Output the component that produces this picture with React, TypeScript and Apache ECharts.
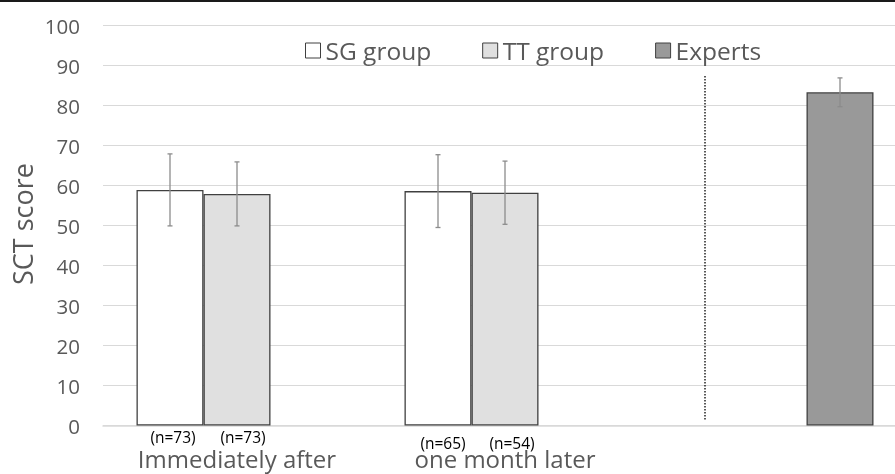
import React, { useEffect, useRef } from "react";
import * as echarts from "echarts";

const categories = ["Immediately after", "one month later", ""];
const seriesNames = ["SG group", "TT group", "Experts"];
const sgMeans = [58.9, 58.6, null];
const ttMeans = [57.9, 58.2, null];
const expMeans = [null, null, 83.3];
const sgErr = [9.0, 9.1, null];
const ttErr = [8.0, 7.9, null];
const expErr = [null, null, 3.6];
const sgN = ["(n=73)", "(n=65)", ""];
const ttN = ["(n=73)", "(n=54)", ""];
const yTicks = { min: 0, max: 100, interval: 10 };
const separatorRange = [1.5, 87.6];

const FONT = "Open Sans";
const colors = ["#ffffff", "#e0e0e0", "#999999"];
const borderColor = "#404040";

export default function App() {
  const ref = useRef<HTMLDivElement>(null);
  useEffect(() => {
    if (!ref.current) return;
    const chart = echarts.init(ref.current, null, { renderer: "svg" });

    const sgOffsets = [
      [3, 11],
      [5, 17],
      [0, 0],
    ];
    const ttOffsets = [
      [6, 11],
      [7, 17],
      [0, 0],
    ];
    const mkBarData = (means: (number | null)[], ns: string[], offs: number[][]) =>
      means.map((v, i) =>
        v == null
          ? null
          : {
              value: v,
              label: {
                show: ns[i] !== "",
                formatter: ns[i],
                position: ["50%", "100%"],
                align: "center",
                verticalAlign: "middle",
                offset: offs[i],
                color: "#000",
                fontSize: 15.5,
                fontFamily: FONT,
              },
            }
      );

    const errRows: (number | null)[][] = [];
    [sgMeans, ttMeans, expMeans].forEach((means, s) => {
      const errs = [sgErr, ttErr, expErr][s];
      means.forEach((m, i) => {
        const e = errs[i];
        if (m != null && e != null) errRows.push([i, s, m - e, m + e]);
      });
    });

    const barBase = {
      type: "bar",
      barGap: "0%",
      barCategoryGap: "25%",
      itemStyle: { borderColor, borderWidth: 1.3 },
    };

    chart.setOption({
      animation: false,
      textStyle: { fontFamily: FONT },
      grid: { left: 103, right: 0, top: 25.5, bottom: 48.5 },
      legend: {
        left: 300,
        top: 33,
        itemWidth: 15,
        itemHeight: 15,
        itemGap: 51,
        icon: "rect",
        textStyle: { fontSize: 24.5, color: "#595959", fontFamily: FONT },
        data: seriesNames.map((n, i) => ({
          name: n,
          itemStyle: { color: colors[i], borderColor: "#404040", borderWidth: 1 },
        })),
      },
      xAxis: {
        type: "category",
        data: categories,
        axisLine: { show: true, lineStyle: { color: "#d9d9d9", width: 1.5 } },
        axisTick: { show: false },
        axisLabel: { fontSize: 24, color: "#595959", margin: 21, fontFamily: FONT },
      },
      yAxis: {
        type: "value",
        min: yTicks.min,
        max: yTicks.max,
        interval: yTicks.interval,
        axisLine: { show: false },
        axisTick: { show: false },
        axisLabel: { fontSize: 20.5, color: "#595959", margin: 23, fontFamily: FONT },
        splitLine: { lineStyle: { color: "#d9d9d9", width: 1 } },
      },
      series: [
        { ...barBase, name: seriesNames[0], data: mkBarData(sgMeans, sgN, sgOffsets), itemStyle: { ...barBase.itemStyle, color: colors[0] } },
        { ...barBase, name: seriesNames[1], data: mkBarData(ttMeans, ttN, ttOffsets), itemStyle: { ...barBase.itemStyle, color: colors[1] } },
        { ...barBase, name: seriesNames[2], data: mkBarData(expMeans, ["", "", ""], sgOffsets), itemStyle: { ...barBase.itemStyle, color: colors[2] } },
        {
          type: "custom",
          name: "errors",
          z: 10,
          data: errRows,
          encode: { x: 0, y: [2, 3] },
          renderItem: (params: any, api: any) => {
            const cat = api.value(0);
            const s = api.value(1);
            const lo = api.coord([cat, api.value(2)]);
            const hi = api.coord([cat, api.value(3)]);
            const band = api.size([1, 0])[0];
            const barW = band / 4;
            const x = lo[0] + (s - 1) * barW;
            const cap = 2.5;
            const style = { stroke: "#8c8c8c", lineWidth: 1.3 };
            return {
              type: "group",
              children: [
                { type: "line", shape: { x1: x, y1: lo[1], x2: x, y2: hi[1] }, style },
                { type: "line", shape: { x1: x - cap, y1: lo[1], x2: x + cap, y2: lo[1] }, style },
                { type: "line", shape: { x1: x - cap, y1: hi[1], x2: x + cap, y2: hi[1] }, style },
              ],
            };
          },
        },
        {
          type: "custom",
          name: "separator",
          z: 10,
          data: [[2, separatorRange[0], separatorRange[1]]],
          encode: { x: 0, y: [1, 2] },
          renderItem: (params: any, api: any) => {
            const lo = api.coord([api.value(0), api.value(1)]);
            const hi = api.coord([api.value(0), api.value(2)]);
            const band = api.size([1, 0])[0];
            const x = lo[0] - band / 4 - 1;
            return {
              type: "line",
              shape: { x1: x, y1: lo[1], x2: x, y2: hi[1] },
              style: { stroke: "#000", lineWidth: 1.3, lineDash: [1.5, 1.5] },
            };
          },
        },
      ],
      graphic: [
        { type: "rect", left: 0, top: 0, shape: { width: 907, height: 2 }, style: { fill: "#1a1a1a" } },
        {
          type: "text",
          x: 22,
          y: 224,
          rotation: Math.PI / 2,
          style: {
            text: "SCT score",
            fontSize: 27,
            fontFamily: FONT,
            fill: "#595959",
            align: "center",
            verticalAlign: "middle",
          },
        },
      ],
    });
    return () => chart.dispose();
  }, []);
  return (
    <div style={{ position: "fixed", left: 0, top: 0, width: 895, height: 474, overflow: "hidden" }}>
      <div ref={ref} style={{ width: 907, height: 474 }} />
    </div>
  );
}
